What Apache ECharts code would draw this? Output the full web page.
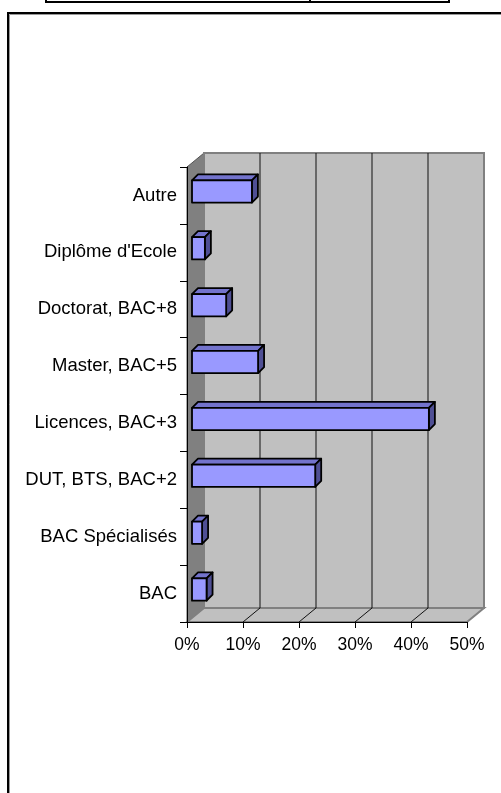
<!DOCTYPE html>
<html>
<head>
<meta charset="utf-8">
<script src="https://cdn.jsdelivr.net/npm/echarts@6/dist/echarts.min.js"></script>
<style>
  html, body { margin: 0; padding: 0; background: #fff; }
  #chart { width: 501px; height: 793px; }
</style>
</head>
<body>
<div id="chart"></div>
<script>
// ---- data ----
const categories = ['BAC', 'BAC Spécialisés', 'DUT, BTS, BAC+2', 'Licences, BAC+3', 'Master, BAC+5', 'Doctorat, BAC+8', "Diplôme d'Ecole", 'Autre'];
const shares = [2.6, 1.8, 22.0, 42.3, 11.8, 6.1, 2.3, 10.7];
const xTickValues = [0, 10, 20, 30, 40, 50];

// ---- 3D look ----
const DEPTH_X = 17, DEPTH_Y = -14;       // wall depth
const BAR_OFF_X = 5, BAR_OFF_Y = -4;     // bar front plane offset
const BAR_DX = 6, BAR_DY = -6;           // bar depth
const BAR_RATIO = 0.39;

function renderWalls(params, api) {
  const cs = params.coordSys;
  const x0 = cs.x, y0 = cs.y, w = cs.width, h = cs.height;
  const dx = DEPTH_X, dy = DEPTH_Y;
  const ch = [];
  ch.push({ type: 'polygon', shape: { points: [[x0, y0], [x0 + dx, y0 + dy], [x0 + dx, y0 + h + dy], [x0, y0 + h]] },
    style: { fill: '#808080', stroke: '#555', lineWidth: 1 } });
  ch.push({ type: 'rect', shape: { x: x0 + dx, y: y0 + dy, width: w, height: h },
    style: { fill: '#C0C0C0', stroke: '#808080', lineWidth: 2 } });
  ch.push({ type: 'polygon', shape: { points: [[x0, y0 + h], [x0 + w, y0 + h], [x0 + w + dx, y0 + h + dy], [x0 + dx, y0 + h + dy]] },
    style: { fill: '#C0C0C0', stroke: '#808080', lineWidth: 2 } });
  xTickValues.slice(1, -1).forEach(function (v) {
    const px = api.coord([v, 0])[0];
    ch.push({ type: 'line', shape: { x1: px + dx, y1: y0 + dy, x2: px + dx, y2: y0 + h + dy },
      style: { stroke: '#111', lineWidth: 1 } });
    ch.push({ type: 'line', shape: { x1: px, y1: y0 + h, x2: px + dx, y2: y0 + h + dy },
      style: { stroke: '#111', lineWidth: 1 } });
  });
  return { type: 'group', children: ch };
}

function renderBar(params, api) {
  const v = api.value(0), i = api.value(1);
  const start = api.coord([0, i]);
  const end = api.coord([v, i]);
  const band = api.size([0, 1])[1];
  const bh = band * BAR_RATIO;
  const yTop = start[1] + BAR_OFF_Y - bh / 2, yBot = yTop + bh;
  const xL = start[0] + BAR_OFF_X, xR = end[0] + BAR_OFF_X;
  const s = { stroke: '#000', lineWidth: 1.8, lineJoin: 'round' };
  return {
    type: 'group',
    children: [
      { type: 'polygon', shape: { points: [[xL, yTop], [xR, yTop], [xR + BAR_DX, yTop + BAR_DY], [xL + BAR_DX, yTop + BAR_DY]] },
        style: Object.assign({ fill: '#7373CC' }, s) },
      { type: 'polygon', shape: { points: [[xR, yTop], [xR + BAR_DX, yTop + BAR_DY], [xR + BAR_DX, yBot + BAR_DY], [xR, yBot]] },
        style: Object.assign({ fill: '#4F4F94' }, s) },
      { type: 'rect', shape: { x: xL, y: yTop, width: xR - xL, height: bh },
        style: Object.assign({ fill: '#9999FF' }, s) }
    ]
  };
}

const font = "'Liberation Sans', Arial, sans-serif";
const chart = echarts.init(document.getElementById('chart'), null, { renderer: 'canvas' });
chart.setOption({
  animation: false,
  backgroundColor: '#fff',
  grid: { left: 187, top: 167, width: 280, height: 455, outerBoundsMode: 'none', containLabel: false },
  xAxis: {
    type: 'value', min: 0, max: 50, interval: 10, z: 10,
    axisLine: { show: true, lineStyle: { color: '#000', width: 1 } },
    axisTick: { show: true, length: 6, lineStyle: { color: '#000' } },
    splitLine: { show: false },
    axisLabel: { formatter: '{value}%', color: '#000', fontFamily: font, fontSize: 17.5, margin: 14 }
  },
  yAxis: {
    type: 'category', data: categories, z: 10,
    axisLine: { show: true, lineStyle: { color: '#000', width: 1 } },
    axisTick: { show: true, length: 7, lineStyle: { color: '#000' } },
    splitLine: { show: false },
    axisLabel: { color: '#000', fontFamily: font, fontSize: 18.5, margin: 10 }
  },
  graphic: [
    { type: 'line', shape: { x1: 46, y1: 2, x2: 449, y2: 2 }, style: { stroke: '#000', lineWidth: 2 } },
    { type: 'line', shape: { x1: 46, y1: 0, x2: 46, y2: 3 }, style: { stroke: '#000', lineWidth: 2 } },
    { type: 'line', shape: { x1: 310, y1: 0, x2: 310, y2: 3 }, style: { stroke: '#000', lineWidth: 2 } },
    { type: 'line', shape: { x1: 449, y1: 0, x2: 449, y2: 3 }, style: { stroke: '#000', lineWidth: 2 } },
    { type: 'rect', shape: { x: 9.5, y: 14.5, width: 600, height: 900 }, style: { fill: 'none', stroke: '#999', lineWidth: 1 } },
    { type: 'rect', shape: { x: 8, y: 13, width: 600, height: 900 }, style: { fill: 'none', stroke: '#000', lineWidth: 2 } }
  ],
  series: [
    { type: 'custom', name: 'walls', renderItem: renderWalls, data: [[0, 0]], encode: { x: 0, y: 1 }, z: 1, silent: true, clip: false },
    { type: 'custom', name: 'share', renderItem: renderBar, data: shares.map(function (v, i) { return [v, i]; }), encode: { x: 0, y: 1 }, z: 3, clip: false }
  ]
});
</script>
</body>
</html>
